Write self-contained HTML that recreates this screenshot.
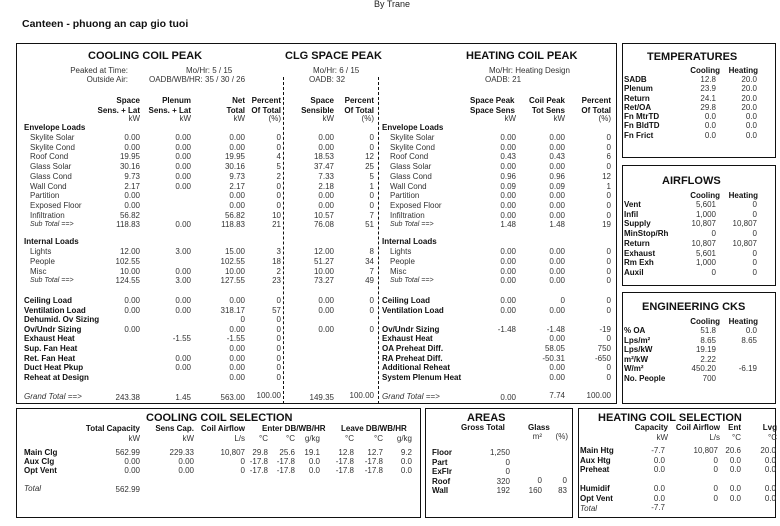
<!DOCTYPE html>
<html><head><meta charset="utf-8"><style>
body{margin:0;width:780px;height:526px;background:#fff;position:relative;overflow:hidden;font-family:"Liberation Sans",Arial,sans-serif;font-size:8px;color:#333}
div{position:absolute;white-space:nowrap;line-height:10px}
.b{font-weight:bold;color:#111}
.i{font-style:italic;font-size:7px}
.h{font-weight:bold;font-size:11px;color:#111;line-height:12px}
.box{border:1.3px solid #111;box-sizing:border-box}
.dash{border-left:1.3px dashed #111;width:0}
.c{text-align:center}
</style></head><body>
<div style="left:374px;top:-1px;font-size:9px;color:#222">By Trane</div>
<div class="b" style="left:22px;top:18px;font-size:10.5px;line-height:12px">Canteen - phuong an cap gio tuoi</div>

<div class="box" style="left:16px;top:43px;width:601px;height:361px"></div>
<div class="dash" style="left:283px;top:77px;height:327px"></div>
<div class="dash" style="left:378px;top:77px;height:327px"></div>
<div class="h" style="left:88px;top:50px">COOLING COIL PEAK</div>
<div class="h" style="left:285px;top:50px">CLG SPACE PEAK</div>
<div class="h" style="left:466px;top:50px">HEATING COIL PEAK</div>
<div style="right:652px;top:66px">Peaked at Time:</div>
<div style="right:652px;top:75px">Outside Air:</div>
<div style="left:186px;top:66px">Mo/Hr: 5 / 15</div>
<div style="left:149px;top:75px">OADB/WB/HR: 35 / 30 / 26</div>
<div style="left:313px;top:66px">Mo/Hr: 6 / 15</div>
<div style="left:309px;top:75px">OADB: 32</div>
<div style="left:489px;top:66px">Mo/Hr: Heating Design</div>
<div style="left:485px;top:75px">OADB: 21</div>

<div class="b" style="right:640px;top:96px;text-align:right">Space<br>Sens. + Lat</div>
<div class="b" style="right:589px;top:96px;text-align:right">Plenum<br>Sens. + Lat</div>
<div class="b" style="right:535px;top:96px;text-align:right">Net<br>Total</div>
<div class="b" style="right:499px;top:96px;text-align:right">Percent<br>Of Total</div>
<div class="b" style="right:446px;top:96px;text-align:right">Space<br>Sensible</div>
<div class="b" style="right:406px;top:96px;text-align:right">Percent<br>Of Total</div>
<div class="b" style="left:470px;top:96px">Space Peak<br>Space Sens</div>
<div class="b" style="right:215px;top:96px;text-align:right">Coil Peak<br>Tot Sens</div>
<div class="b" style="right:169px;top:96px;text-align:right">Percent<br>Of Total</div>
<div style="right:640px;top:114px">kW</div><div style="right:589px;top:114px">kW</div><div style="right:535px;top:114px">kW</div><div style="right:499px;top:114px">(%)</div>
<div style="right:446px;top:114px">kW</div><div style="right:406px;top:114px">(%)</div>
<div style="right:264px;top:114px">kW</div><div style="right:215px;top:114px">kW</div><div style="right:169px;top:114px">(%)</div>

<!-- left labels -->
<div class="b" style="left:24px;top:123px">Envelope Loads</div>
<div style="left:30px;top:133px;line-height:9.7px">Skylite Solar<br>Skylite Cond<br>Roof Cond<br>Glass Solar<br>Glass Cond<br>Wall Cond<br>Partition<br>Exposed Floor<br>Infiltration</div>
<div class="i" style="left:30px;top:220px">Sub Total ==&gt;</div>
<div class="b" style="left:24px;top:237px">Internal Loads</div>
<div style="left:30px;top:247px;line-height:9.8px">Lights<br>People<br>Misc</div>
<div class="i" style="left:30px;top:276px">Sub Total ==&gt;</div>
<div class="b" style="left:24px;top:296px;line-height:9.6px">Ceiling Load<br>Ventilation Load<br>Dehumid. Ov Sizing<br>Ov/Undr Sizing<br>Exhaust Heat<br>Sup. Fan Heat<br>Ret. Fan Heat<br>Duct Heat Pkup<br>Reheat at Design</div>
<div class="i" style="left:24px;top:392px;font-size:8px">Grand Total ==&gt;</div>

<!-- col values -->
<div style="right:640px;top:133px;text-align:right;line-height:9.7px">0.00<br>0.00<br>19.95<br>30.16<br>9.73<br>2.17<br>0.00<br>0.00<br>56.82<br>118.83</div>
<div style="right:589px;top:133px;text-align:right;line-height:9.7px">0.00<br>0.00<br>0.00<br>0.00<br>0.00<br>0.00<br><br><br><br>0.00</div>
<div style="right:535px;top:133px;text-align:right;line-height:9.7px">0.00<br>0.00<br>19.95<br>30.16<br>9.73<br>2.17<br>0.00<br>0.00<br>56.82<br>118.83</div>
<div style="right:499px;top:133px;text-align:right;line-height:9.7px">0<br>0<br>4<br>5<br>2<br>0<br>0<br>0<br>10<br>21</div>
<div style="right:446px;top:133px;text-align:right;line-height:9.7px">0.00<br>0.00<br>18.53<br>37.47<br>7.33<br>2.18<br>0.00<br>0.00<br>10.57<br>76.08</div>
<div style="right:406px;top:133px;text-align:right;line-height:9.7px">0<br>0<br>12<br>25<br>5<br>1<br>0<br>0<br>7<br>51</div>

<div style="right:640px;top:247px;text-align:right;line-height:9.8px">12.00<br>102.55<br>10.00<br>124.55</div>
<div style="right:589px;top:247px;text-align:right;line-height:9.8px">3.00<br><br>0.00<br>3.00</div>
<div style="right:535px;top:247px;text-align:right;line-height:9.8px">15.00<br>102.55<br>10.00<br>127.55</div>
<div style="right:499px;top:247px;text-align:right;line-height:9.8px">3<br>18<br>2<br>23</div>
<div style="right:446px;top:247px;text-align:right;line-height:9.8px">12.00<br>51.27<br>10.00<br>73.27</div>
<div style="right:406px;top:247px;text-align:right;line-height:9.8px">8<br>34<br>7<br>49</div>

<div style="right:640px;top:296px;text-align:right;line-height:9.6px">0.00<br>0.00<br><br>0.00</div>
<div style="right:589px;top:296px;text-align:right;line-height:9.6px">0.00<br>0.00<br><br><br>-1.55<br><br>0.00<br>0.00</div>
<div style="right:535px;top:296px;text-align:right;line-height:9.6px">0.00<br>318.17<br>0<br>0.00<br>-1.55<br>0.00<br>0.00<br>0.00<br>0.00</div>
<div style="right:499px;top:296px;text-align:right;line-height:9.6px">0<br>57<br>0<br>0<br>0<br>0<br>0<br>0<br>0</div>
<div style="right:446px;top:296px;text-align:right;line-height:9.6px">0.00<br>0.00<br><br>0.00</div>
<div style="right:406px;top:296px;text-align:right;line-height:9.6px">0<br>0<br><br>0</div>
<div style="right:640px;top:393px">243.38</div><div style="right:589px;top:393px">1.45</div><div style="right:535px;top:393px">563.00</div><div style="right:499px;top:391px">100.00</div>
<div style="right:446px;top:393px">149.35</div><div style="right:406px;top:391px">100.00</div>

<!-- heating -->
<div class="b" style="left:382px;top:123px">Envelope Loads</div>
<div style="left:390px;top:133px;line-height:9.7px">Skylite Solar<br>Skylite Cond<br>Roof Cond<br>Glass Solar<br>Glass Cond<br>Wall Cond<br>Partition<br>Exposed Floor<br>Infiltration</div>
<div class="i" style="left:390px;top:220px">Sub Total ==&gt;</div>
<div class="b" style="left:382px;top:237px">Internal Loads</div>
<div style="left:390px;top:247px;line-height:9.8px">Lights<br>People<br>Misc</div>
<div class="i" style="left:390px;top:276px">Sub Total ==&gt;</div>
<div class="b" style="left:382px;top:296px;line-height:9.6px">Ceiling Load<br>Ventilation Load<br><br>Ov/Undr Sizing<br>Exhaust Heat<br>OA Preheat Diff.<br>RA Preheat Diff.<br>Additional Reheat<br>System Plenum Heat</div>
<div class="i" style="left:382px;top:392px;font-size:8px">Grand Total ==&gt;</div>
<div style="right:264px;top:133px;text-align:right;line-height:9.7px">0.00<br>0.00<br>0.43<br>0.00<br>0.96<br>0.09<br>0.00<br>0.00<br>0.00<br>1.48</div>
<div style="right:215px;top:133px;text-align:right;line-height:9.7px">0.00<br>0.00<br>0.43<br>0.00<br>0.96<br>0.09<br>0.00<br>0.00<br>0.00<br>1.48</div>
<div style="right:169px;top:133px;text-align:right;line-height:9.7px">0<br>0<br>6<br>0<br>12<br>1<br>0<br>0<br>0<br>19</div>
<div style="right:264px;top:247px;text-align:right;line-height:9.8px">0.00<br>0.00<br>0.00<br>0.00</div>
<div style="right:215px;top:247px;text-align:right;line-height:9.8px">0.00<br>0.00<br>0.00<br>0.00</div>
<div style="right:169px;top:247px;text-align:right;line-height:9.8px">0<br>0<br>0<br>0</div>
<div style="right:264px;top:296px;text-align:right;line-height:9.6px">0.00<br>0.00<br><br>-1.48</div>
<div style="right:215px;top:296px;text-align:right;line-height:9.6px">0<br>0.00<br><br>-1.48<br>0.00<br>58.05<br>-50.31<br>0.00<br>0.00</div>
<div style="right:169px;top:296px;text-align:right;line-height:9.6px">0<br>0<br><br>-19<br>0<br>750<br>-650<br>0<br>0</div>
<div style="right:264px;top:393px">0.00</div><div style="right:215px;top:391px">7.74</div><div style="right:169px;top:391px">100.00</div>

<!-- temperatures -->
<div class="box" style="left:622px;top:43px;width:154px;height:115px"></div>
<div class="h" style="left:647px;top:51px">TEMPERATURES</div>
<div class="b" style="right:60px;top:66px">Cooling</div><div class="b" style="right:22px;top:66px">Heating</div>
<div class="b" style="left:624px;top:75px;line-height:9.3px">SADB<br>Plenum<br>Return<br>Ret/OA<br>Fn MtrTD<br>Fn BldTD<br>Fn Frict</div>
<div style="right:64px;top:75px;text-align:right;line-height:9.3px">12.8<br>23.9<br>24.1<br>29.8<br>0.0<br>0.0<br>0.0</div>
<div style="right:23px;top:75px;text-align:right;line-height:9.3px">20.0<br>20.0<br>20.0<br>20.0<br>0.0<br>0.0<br>0.0</div>

<div class="box" style="left:622px;top:165px;width:154px;height:121px"></div>
<div class="h" style="left:662px;top:175px">AIRFLOWS</div>
<div class="b" style="right:60px;top:191px">Cooling</div><div class="b" style="right:22px;top:191px">Heating</div>
<div class="b" style="left:624px;top:200px;line-height:9.7px">Vent<br>Infil<br>Supply<br>MinStop/Rh<br>Return<br>Exhaust<br>Rm Exh<br>Auxil</div>
<div style="right:64px;top:200px;text-align:right;line-height:9.7px">5,601<br>1,000<br>10,807<br>0<br>10,807<br>5,601<br>1,000<br>0</div>
<div style="right:23px;top:200px;text-align:right;line-height:9.7px">0<br>0<br>10,807<br>0<br>10,807<br>0<br>0<br>0</div>

<div class="box" style="left:622px;top:292px;width:154px;height:112px"></div>
<div class="h" style="left:642px;top:301px">ENGINEERING CKS</div>
<div class="b" style="right:60px;top:317px">Cooling</div><div class="b" style="right:22px;top:317px">Heating</div>
<div class="b" style="left:624px;top:326px;line-height:9.5px">% OA<br>Lps/m²<br>Lps/kW<br>m²/kW<br>W/m²<br>No. People</div>
<div style="right:64px;top:326px;text-align:right;line-height:9.5px">51.8<br>8.65<br>19.19<br>2.22<br>450.20<br>700</div>
<div style="right:23px;top:326px;text-align:right;line-height:9.5px">0.0<br>8.65<br><br><br>-6.19</div>

<!-- cooling coil selection -->
<div class="box" style="left:16px;top:408px;width:405px;height:110px"></div>
<div class="h" style="left:146px;top:412px">COOLING COIL SELECTION</div>
<div class="b" style="right:640px;top:424px">Total Capacity</div>
<div class="b" style="right:586px;top:424px">Sens Cap.</div>
<div class="b" style="right:535px;top:424px">Coil Airflow</div>
<div class="b" style="left:262px;top:424px">Enter DB/WB/HR</div>
<div class="b" style="left:341px;top:424px">Leave DB/WB/HR</div>
<div style="right:640px;top:434px">kW</div><div style="right:586px;top:434px">kW</div><div style="right:535px;top:434px">L/s</div>
<div style="right:512px;top:434px">°C</div><div style="right:485px;top:434px">°C</div><div style="right:460px;top:434px">g/kg</div>
<div style="right:426px;top:434px">°C</div><div style="right:397px;top:434px">°C</div><div style="right:368px;top:434px">g/kg</div>
<div class="b" style="left:24px;top:448px;line-height:9px">Main Clg<br>Aux Clg<br>Opt Vent</div>
<div class="i" style="left:24px;top:484px;font-size:8px">Total</div>
<div style="right:640px;top:448px;text-align:right;line-height:9px">562.99<br>0.00<br>0.00</div>
<div style="right:640px;top:485px">562.99</div>
<div style="right:586px;top:448px;text-align:right;line-height:9px">229.33<br>0.00<br>0.00</div>
<div style="right:535px;top:448px;text-align:right;line-height:9px">10,807<br>0<br>0</div>
<div style="right:512px;top:448px;text-align:right;line-height:9px">29.8<br>-17.8<br>-17.8</div>
<div style="right:485px;top:448px;text-align:right;line-height:9px">25.6<br>-17.8<br>-17.8</div>
<div style="right:460px;top:448px;text-align:right;line-height:9px">19.1<br>0.0<br>0.0</div>
<div style="right:426px;top:448px;text-align:right;line-height:9px">12.8<br>-17.8<br>-17.8</div>
<div style="right:397px;top:448px;text-align:right;line-height:9px">12.7<br>-17.8<br>-17.8</div>
<div style="right:368px;top:448px;text-align:right;line-height:9px">9.2<br>0.0<br>0.0</div>

<!-- areas -->
<div class="box" style="left:425px;top:408px;width:148px;height:110px"></div>
<div class="h" style="left:467px;top:412px">AREAS</div>
<div class="b" style="left:461px;top:423px">Gross Total</div>
<div class="b" style="left:528px;top:423px">Glass</div>
<div style="right:238px;top:432px">m²</div><div style="right:212px;top:432px">(%)</div>
<div class="b" style="left:432px;top:448px;line-height:9.5px">Floor<br>Part<br>ExFlr<br>Roof<br>Wall</div>
<div style="right:270px;top:448px;text-align:right;line-height:9.5px">1,250<br>0<br>0<br>320<br>192</div>
<div style="right:238px;top:476px;text-align:right;line-height:9.5px">0<br>160</div>
<div style="right:213px;top:476px;text-align:right;line-height:9.5px">0<br>83</div>

<!-- heating coil selection -->
<div class="box" style="left:578px;top:408px;width:198px;height:110px"></div>
<div class="h" style="left:598px;top:412px">HEATING COIL SELECTION</div>
<div class="b" style="right:112px;top:423px">Capacity</div>
<div class="b" style="right:60px;top:423px">Coil Airflow</div>
<div class="b" style="right:39px;top:423px">Ent</div>
<div class="b" style="right:3px;top:423px">Lvg</div>
<div style="right:112px;top:433px">kW</div><div style="right:60px;top:433px">L/s</div><div style="right:39px;top:433px">°C</div><div style="right:3px;top:433px">°C</div>
<div class="b" style="left:580px;top:446px;line-height:9.5px">Main Htg<br>Aux Htg<br>Preheat<br><br>Humidif<br>Opt Vent</div>
<div class="i" style="left:580px;top:504px;font-size:8px">Total</div>
<div style="right:115px;top:446px;text-align:right;line-height:9.5px">-7.7<br>0.0<br>0.0<br><br>0.0<br>0.0<br>-7.7</div>
<div style="right:62px;top:446px;text-align:right;line-height:9.5px">10,807<br>0<br>0<br><br>0<br>0</div>
<div style="right:39px;top:446px;text-align:right;line-height:9.5px">20.6<br>0.0<br>0.0<br><br>0.0<br>0.0</div>
<div style="right:4px;top:446px;text-align:right;line-height:9.5px">20.0<br>0.0<br>0.0<br><br>0.0<br>0.0</div>
</body></html>
